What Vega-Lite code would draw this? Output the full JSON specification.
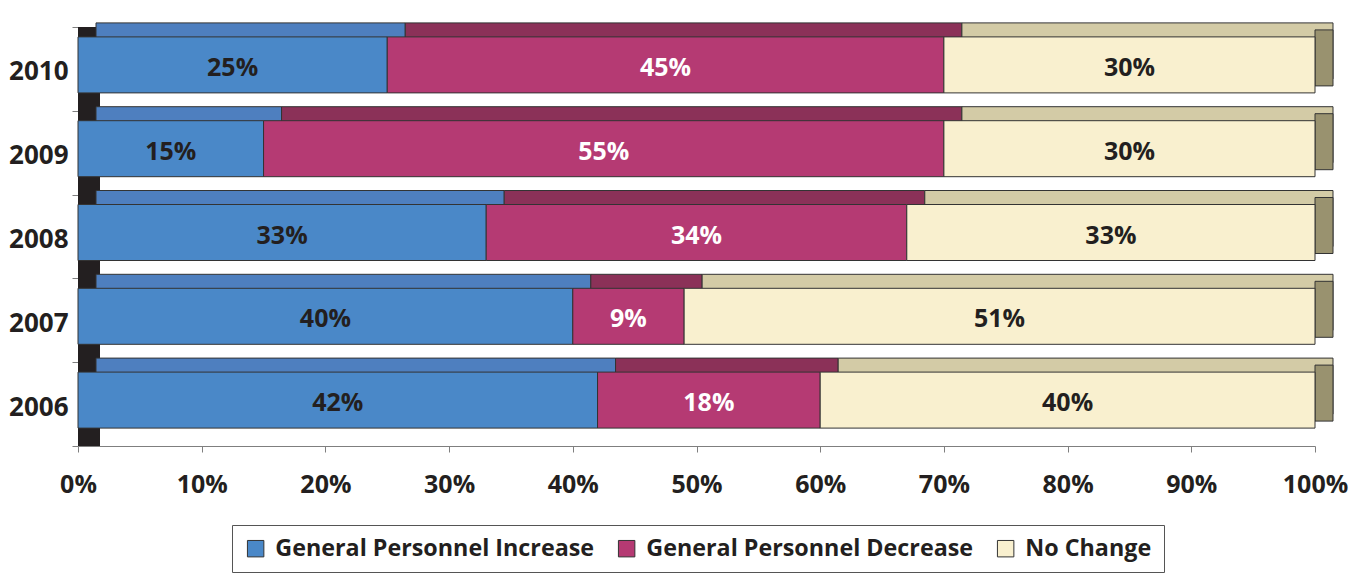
{
  "$schema": "https://vega.github.io/schema/vega-lite/v6.json",
  "width": 1237,
  "height": 419,
  "autosize": {"type": "none"},
  "padding": {"left": 78, "top": 27, "right": 44, "bottom": 127},
  "background": "white",
  "config": {
    "font": "Open Sans",
    "view": {"stroke": null},
    "axis": {"labelFont": "Open Sans", "labelFontWeight": "bold", "labelColor": "#231f20", "domainColor": "#7f7f7f", "tickColor": "#7f7f7f", "grid": false, "title": null}
  },
  "data": {
    "values": [
      {"year": "2010", "series": "General Personnel Increase", "rank": 1, "value": 0.25},
      {"year": "2010", "series": "General Personnel Decrease", "rank": 2, "value": 0.45},
      {"year": "2010", "series": "No Change", "rank": 3, "value": 0.30},
      {"year": "2009", "series": "General Personnel Increase", "rank": 1, "value": 0.15},
      {"year": "2009", "series": "General Personnel Decrease", "rank": 2, "value": 0.55},
      {"year": "2009", "series": "No Change", "rank": 3, "value": 0.30},
      {"year": "2008", "series": "General Personnel Increase", "rank": 1, "value": 0.33},
      {"year": "2008", "series": "General Personnel Decrease", "rank": 2, "value": 0.34},
      {"year": "2008", "series": "No Change", "rank": 3, "value": 0.33},
      {"year": "2007", "series": "General Personnel Increase", "rank": 1, "value": 0.40},
      {"year": "2007", "series": "General Personnel Decrease", "rank": 2, "value": 0.09},
      {"year": "2007", "series": "No Change", "rank": 3, "value": 0.51},
      {"year": "2006", "series": "General Personnel Increase", "rank": 1, "value": 0.42},
      {"year": "2006", "series": "General Personnel Decrease", "rank": 2, "value": 0.18},
      {"year": "2006", "series": "No Change", "rank": 3, "value": 0.40}
    ]
  },
  "transform": [
    {"stack": "value", "groupby": ["year"], "sort": [{"field": "rank", "order": "ascending"}], "as": ["v0", "v1"]},
    {"calculate": "(datum.v0 + datum.v1) / 2", "as": "mid"}
  ],
  "encoding": {
    "y": {
      "field": "year", "type": "ordinal", "sort": "descending",
      "scale": {"paddingInner": 0, "paddingOuter": 0},
      "axis": {"labelFontSize": 26, "tickBand": "extent", "tickSize": 6, "labelPadding": 4, "labelOffset": 3, "domainColor": "#7f7f7f"}
    }
  },
  "layer": [
    {
      "mark": {"type": "rule", "color": "#231f20", "strokeWidth": 22, "xOffset": 11},
      "encoding": {"x": {"datum": 0, "type": "quantitative"}, "y": null}
    },
    {
      "mark": {"type": "bar", "height": 56, "xOffset": 18, "x2Offset": 18, "yOffset": -18, "stroke": "#333333", "strokeWidth": 1},
      "encoding": {
        "x": {"field": "v0", "type": "quantitative", "scale": {"domain": [0, 1]},
          "axis": {"values": [0, 0.1, 0.2, 0.3, 0.4, 0.5, 0.6, 0.7, 0.8, 0.9, 1], "format": ".0%", "labelFontSize": 25, "tickSize": 6, "labelPadding": 20, "labelFlush": false}},
        "x2": {"field": "v1"},
        "color": {"field": "series", "type": "nominal", "legend": null,
          "scale": {"domain": ["General Personnel Increase", "General Personnel Decrease", "No Change"], "range": ["#4e7fbf", "#8b3158", "#d3cba6"]}}
      }
    },
    {
      "transform": [{"filter": "datum.rank == 3"}],
      "mark": {"type": "bar", "height": 56, "x2Offset": 18, "yOffset": -11, "color": "#99926f", "stroke": "#333333", "strokeWidth": 1},
      "encoding": {
        "x": {"field": "v1", "type": "quantitative"},
        "x2": {"field": "v1"}
      }
    },
    {
      "mark": {"type": "bar", "height": 56, "yOffset": -4, "stroke": "#333333", "strokeWidth": 1},
      "encoding": {
        "x": {"field": "v0", "type": "quantitative"},
        "x2": {"field": "v1"},
        "fill": {"field": "series", "type": "nominal", "sort": null,
          "scale": {"domain": ["General Personnel Increase", "General Personnel Decrease", "No Change"], "range": ["#4a88c8", "#b53a73", "#f9f0cf"]},
          "legend": {
            "orient": "none", "legendX": 154, "legendY": 498, "direction": "horizontal", "columns": 3,
            "title": null, "symbolType": "square", "symbolSize": 270, "symbolStrokeColor": "#333333", "symbolStrokeWidth": 1,
            "labelFont": "Open Sans", "labelFontWeight": "bold", "labelFontSize": 23.3, "labelColor": "#231f20", "labelLimit": 600,
            "labelOffset": 8, "columnPadding": 20, "padding": 12, "strokeColor": "#555555", "fillColor": "white"
          }
        }
      }
    },
    {
      "mark": {"type": "text", "yOffset": -1, "fontSize": 25, "fontWeight": "bold", "font": "Open Sans", "baseline": "middle", "align": "center"},
      "encoding": {
        "x": {"field": "mid", "type": "quantitative"},
        "text": {"field": "value", "type": "quantitative", "format": ".0%"},
        "color": {"condition": {"test": "datum.rank == 2", "value": "white"}, "value": "#231f20"}
      }
    }
  ],
  "resolve": {"scale": {"color": "independent"}}
}
